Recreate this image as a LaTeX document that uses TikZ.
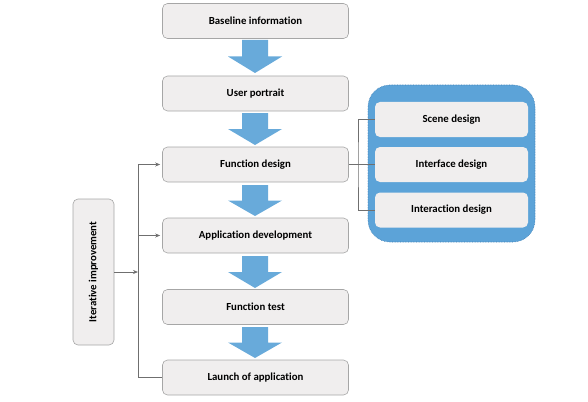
\documentclass[tikz,border=0pt]{standalone}
\usepackage{fontspec}
\setmainfont{Carlito}[Ligatures={NoCommon,NoContextual}]
\usetikzlibrary{arrows.meta,shapes.arrows}
\definecolor{boxfill}{HTML}{F0EEEE}
\definecolor{boxline}{HTML}{A6A6A6}
\definecolor{arrowblue}{HTML}{68AADA}
\definecolor{panelblue}{HTML}{5CA3D8}
\definecolor{panelline}{HTML}{3F7FB5}
\definecolor{conn}{HTML}{6F6F6F}
\tikzset{
  labelfont/.style={font=\fontsize{10.8}{13}\selectfont\bfseries},
  stepbox/.style={draw=boxline, line width=0.6pt, fill=boxfill, rounded corners=5pt,
    minimum width=186pt, minimum height=35pt, inner sep=0pt, labelfont},
  subbox/.style={draw=none, fill=boxfill, rounded corners=5pt,
    minimum width=153pt, minimum height=35pt, inner sep=0pt, labelfont},
  downarrow/.style={fill=arrowblue, draw=none},
  connline/.style={draw=conn, line width=0.8pt},
  conntip/.style={connline, -{Stealth[length=5pt,width=4pt]}}
}
\begin{document}
\begin{tikzpicture}[x=1pt,y=-1pt]
\useasboundingbox (0,0) rectangle (588,401);
% main boxes
\node[stepbox] (b1) at (255.5,21) {Baseline information};
\node[stepbox] (b2) at (255.5,93.5) {User portrait};
\node[stepbox] (b3) at (255.5,164.5) {Function design};
\node[stepbox] (b4) at (255.5,235.5) {Application development};
\node[stepbox] (b5) at (255.5,307) {Function test};
\node[stepbox] (b6) at (255.5,377.5) {Launch of application};
% block arrows
\foreach \t/\b in {40/73, 113/145, 185/216, 256/288, 327/358}{
  \path[downarrow] (242,\t) -- (268,\t) -- (268,{\t+0.5*(\b-\t)}) -- (282,{\t+0.5*(\b-\t)})
     -- (255,\b) -- (228,{\t+0.5*(\b-\t)}) -- (242,{\t+0.5*(\b-\t)}) -- cycle;
}
% side box
\node[stepbox, minimum width=41pt, minimum height=146pt] (it) at (93.5,272) {};
\node[labelfont, rotate=90] (itl) at (it.center) {Iterative improvement};
% right panel
\node[fill=panelblue, draw=panelline, densely dotted, line width=0.6pt, rounded corners=22pt,
  minimum width=167pt, minimum height=157pt, inner sep=0pt] (panel) at (451.5,163.5) {};
\node[subbox] (s1) at (451.5,119.5) {Scene design};
\node[subbox] (s2) at (451.5,164.5) {Interface design};
\node[subbox] (s3) at (451.5,210) {Interaction design};
% iterative connectors
\coordinate (vtop) at (138,164.5);
\coordinate (vbot) at (138,377.5);
\coordinate (vmid) at (138,272);
\draw[connline] (vtop) -- (vbot) -- (b6.west);
\draw[conntip] (vtop) -- ([xshift=-2pt]b3.west);
\draw[conntip] (138,235.5) -- ([xshift=-2pt]b4.west);
\draw[conntip] (it.east) -- (vmid);
% function design branch
\coordinate (bj) at (358,164.5);
\draw[connline] (b3.east) -- (bj);
\draw[connline] (s1.west) -| (bj) |- (s3.west);
\draw[connline] (bj) -- (s2.west);
\end{tikzpicture}
\end{document}
